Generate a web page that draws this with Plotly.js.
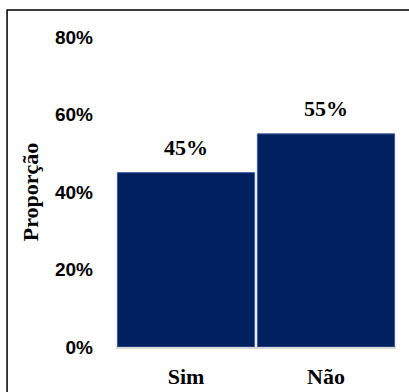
<!DOCTYPE html>
<html>
<head>
<meta charset="utf-8">
<script src="https://cdn.plot.ly/plotly-3.0.1.min.js"></script>
<style>html,body{margin:0;padding:0;background:#fff;}#chart{width:409px;height:392px;}</style>
</head>
<body>
<div id="chart"></div>
<script>
const categories = ["Sim", "Não"];
const values = [0.45, 0.55];
const valueLabels = ["45%", "55%"];
const tickVals = [0, 0.2, 0.4, 0.6, 0.8];
const tickText = ["0%", "20%", "40%", "60%", "80%"];

const trace = {
  type: "bar",
  x: categories,
  y: values,
  marker: {color: "#002060", line: {color: "#3b5b9b", width: 1}},
  hoverinfo: "skip"
};

const annotations = categories.map((c, i) => ({
  x: c, y: values[i], xref: "x", yref: "y",
  text: "<b>" + valueLabels[i] + "</b>",
  showarrow: false, yanchor: "bottom", yshift: 11,
  font: {family: "Liberation Serif, Times New Roman, serif", size: 22, color: "#000"}
}));

const layout = {
  width: 409, height: 392,
  margin: {l: 116, r: 13, t: 37, b: 45},
  paper_bgcolor: "#fff", plot_bgcolor: "#fff",
  showlegend: false,
  bargap: 0.02,
  xaxis: {
    range: [-0.5, 1.5],
    showgrid: false, zeroline: false,
    showline: true, linecolor: "#d9d9d9", linewidth: 2,
    ticks: "", ticklabelstandoff: 9,
    tickfont: {family: "Liberation Serif, Times New Roman, serif", size: 22, color: "#000", weight: "bold"}
  },
  yaxis: {
    range: [0, 0.8],
    tickvals: tickVals, ticktext: tickText,
    showgrid: false, zeroline: false, showline: false,
    ticks: "", ticklabelstandoff: 22,
    tickfont: {family: "Liberation Sans, Arial, sans-serif", size: 19, color: "#000", weight: "bold"},
    title: {text: "<b>Proporção</b>", standoff: 10,
      font: {family: "Liberation Serif, Times New Roman, serif", size: 22, color: "#000"}}
  },
  annotations: annotations,
  shapes: [{
    type: "rect", xref: "paper", yref: "paper",
    x0: -0.389, x1: 1.2, y0: -0.3, y1: 1.087,
    line: {color: "#000", width: 1.5}, fillcolor: "rgba(0,0,0,0)", layer: "above"
  }]
};

Plotly.newPlot("chart", [trace], layout, {displayModeBar: false, staticPlot: true});
</script>
</body>
</html>
